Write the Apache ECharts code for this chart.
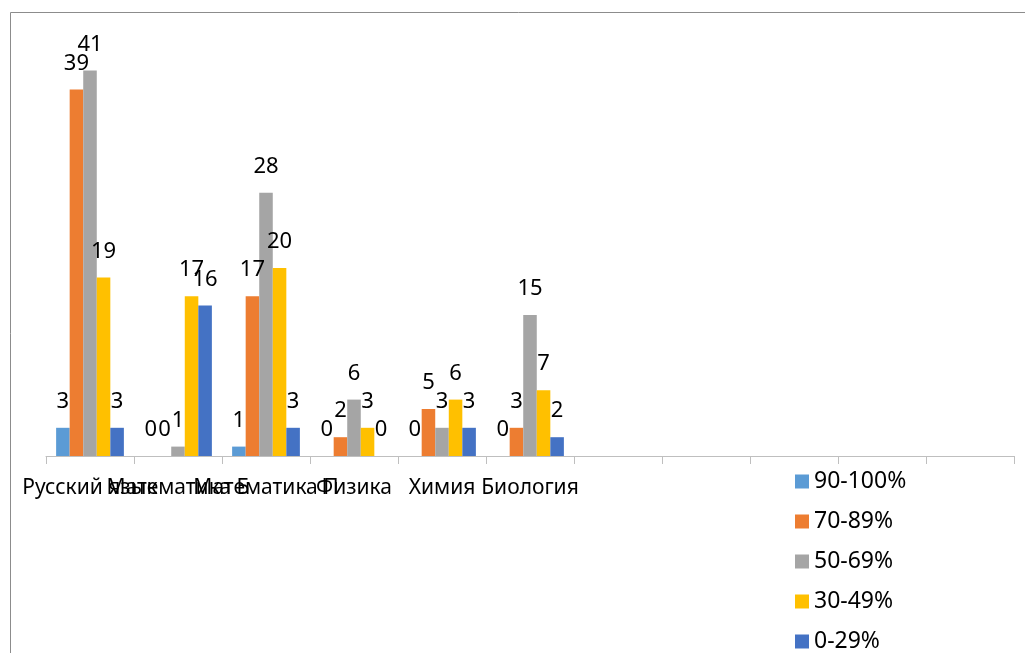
<!DOCTYPE html>
<html>
<head>
<meta charset="utf-8">
<script src="https://cdn.jsdelivr.net/npm/echarts@6/dist/echarts.min.js"></script>
<style>
  html, body { margin: 0; padding: 0; background: #fff; }
  #chart { width: 1025px; height: 653px; }
</style>
</head>
<body>
<div id="chart"></div>
<script>
const subjects = ["Русский язык", "Математика Б", "Математика П", "Физика", "Химия", "Биология", "", "", "", "", ""];
const bandNames = ["90-100%", "70-89%", "50-69%", "30-49%", "0-29%"];
const band90 = [3, 0, 1, 0, 0, 0];
const band70 = [39, 0, 17, 2, 5, 3];
const band50 = [41, 1, 28, 6, 3, 15];
const band30 = [19, 17, 20, 3, 6, 7];
const band0 = [3, 16, 3, 0, 3, 2];
const bandColors = ["#5B9BD5", "#ED7D31", "#A5A5A5", "#FFC000", "#4472C4"];

const font = "'Noto Sans', 'Open Sans', sans-serif";
const bandValues = [band90, band70, band50, band30, band0];

const chart = echarts.init(document.getElementById("chart"), null, { renderer: "canvas" });

chart.setOption({
  animation: false,
  textStyle: { fontFamily: font },
  graphic: [
    {
      type: "rect",
      shape: { x: 10.5, y: 12.5, width: 1030, height: 660 },
      style: { fill: "none", stroke: "#8c8c8c", lineWidth: 1 },
      silent: true,
    },
  ],
  legend: {
    orient: "vertical",
    left: 790,
    top: 465,
    height: 300,
    itemWidth: 14,
    itemHeight: 14,
    itemGap: 17,
    icon: "rect",
    textStyle: { fontFamily: font, fontSize: 23, color: "#000" },
    data: bandNames,
  },
  grid: { left: 46, right: 11, top: 33, bottom: 197, containLabel: false },
  xAxis: {
    type: "category",
    data: subjects,
    axisLine: { lineStyle: { color: "#bfbfbf", width: 1 } },
    axisTick: { show: true, length: 8, lineStyle: { color: "#bfbfbf" } },
    axisLabel: {
      interval: 0,
      margin: 22,
      fontFamily: font,
      fontSize: 21,
      color: "#000",
    },
  },
  yAxis: {
    type: "value",
    min: 0,
    max: 45,
    show: false,
    splitLine: { show: false },
  },
  series: bandValues.map((values, i) => ({
    name: bandNames[i],
    type: "bar",
    data: values,
    barGap: "0%",
    barCategoryGap: "23%",
    itemStyle: { color: bandColors[i] },
    label: {
      show: true,
      position: "top",
      distance: 15,
      fontFamily: font,
      fontSize: 22,
      color: "#000",
    },
  })),
});
</script>
</body>
</html>
